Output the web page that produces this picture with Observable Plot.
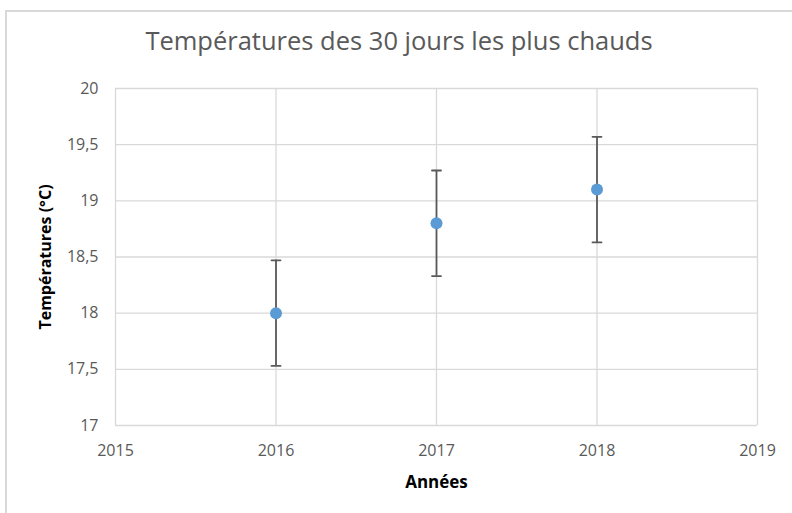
<!DOCTYPE html>
<html>
<head>
<meta charset="utf-8">
<script src="https://cdn.jsdelivr.net/npm/d3@7"></script>
<script src="https://cdn.jsdelivr.net/npm/@observablehq/plot@0.6"></script>
<style>
  html, body { margin: 0; padding: 0; background: #fff; }
  #wrap { position: relative; width: 792px; height: 513px; overflow: hidden; background: #fff; }
  #border { position: absolute; left: 5px; top: 10px; width: 800px; height: 520px; border-top: 2px solid #d9d9d9; border-left: 2px solid #d9d9d9; box-sizing: border-box; }
  #title { position: absolute; left: 0; width: 798px; top: 28px; text-align: center; font-family: "Open Sans", sans-serif; font-size: 25.5px; line-height: 25px; color: #595959; white-space: pre; }
  #chart { position: absolute; left: 0; top: 0; }
</style>
</head>
<body>
<div id="wrap">
  <div id="border"></div>
  <div id="title">Températures des 30 jours les plus chauds</div>
  <div id="chart"></div>
</div>
<script>
const years = [2016, 2017, 2018];
const temps = [18.0, 18.8, 19.1];
const errors = [0.47, 0.47, 0.47];
const xTicks = [2015, 2016, 2017, 2018, 2019];
const yTicks = [17, 17.5, 18, 18.5, 19, 19.5, 20];
const xTitle = "Années";
const yTitle = "Températures (°C)";

const data = years.map((y, i) => ({year: y, temp: temps[i], lo: temps[i] - errors[i], hi: temps[i] + errors[i]}));

const capShape = {
  draw(context, l) {
    context.moveTo(0, 0);
    context.lineTo(0, -l);
  }
};

const chart = Plot.plot({
  width: 792,
  height: 513,
  marginLeft: 115,
  marginRight: 35,
  marginTop: 88,
  marginBottom: 88,
  style: {fontFamily: "Open Sans, sans-serif", fontSize: "16px", color: "#595959", background: "transparent", overflow: "visible"},
  x: {domain: [2015, 2019]},
  y: {domain: [17, 20]},
  marks: [
    Plot.gridX(xTicks, {stroke: "#d9d9d9", strokeOpacity: 1, strokeWidth: 1.3}),
    Plot.gridY(yTicks, {stroke: "#d9d9d9", strokeOpacity: 1, strokeWidth: 1.3}),
    Plot.axisX({ticks: xTicks, tickFormat: d => String(d), tickSize: 0, tickPadding: 19, label: null, fill: "#595959"}),
    Plot.axisY({ticks: yTicks, tickFormat: d => String(d).replace(".", ","), tickSize: 0, tickPadding: 17, label: null, fill: "#595959"}),
    Plot.ruleX(data, {x: "year", y1: "lo", y2: "hi", stroke: "#595959", strokeWidth: 1.8}),
    Plot.vector(data, {x: "year", y: "hi", rotate: 90, length: 9, anchor: "middle", shape: capShape, stroke: "#595959", strokeWidth: 1.8}),
    Plot.vector(data, {x: "year", y: "lo", rotate: 90, length: 9, anchor: "middle", shape: capShape, stroke: "#595959", strokeWidth: 1.8}),
    Plot.dot(data, {x: "year", y: "temp", r: 6, fill: "#5b9bd5", stroke: "none"}),
    Plot.text([xTitle], {frameAnchor: "bottom", textAnchor: "middle", lineAnchor: "middle", dy: 57, fontWeight: "bold", fontSize: 17, fill: "#000"}),
    Plot.text([yTitle], {frameAnchor: "left", textAnchor: "middle", lineAnchor: "middle", rotate: -90, dx: -70, fontWeight: "bold", fontSize: 16, fill: "#000"})
  ]
});
document.getElementById("chart").appendChild(chart);
</script>
</body>
</html>
